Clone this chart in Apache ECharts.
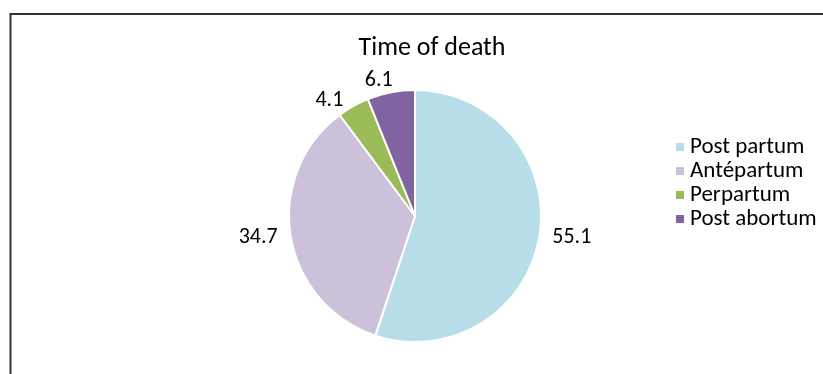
<!DOCTYPE html>
<html>
<head>
<meta charset="utf-8">
<script src="https://cdn.jsdelivr.net/npm/echarts@6/dist/echarts.min.js"></script>
<style>
html,body{margin:0;padding:0;background:#fff;}
#c{width:823px;height:374px;}
</style>
</head>
<body>
<div id="c"></div>
<script>
var titleText = "Time of death";
var categories = ["Post partum", "Antépartum", "Perpartum", "Post abortum"];
var values = [55.1, 34.7, 4.1, 6.1];
var colors = ["#B7DDE8", "#CCC1DA", "#9BBB59", "#8064A2"];

var font = "Carlito, 'Open Sans', 'Noto Sans', sans-serif";
var chart = echarts.init(document.getElementById('c'));
chart.setOption({
  animation: false,
  color: colors,
  title: {
    text: titleText,
    left: 432, top: 35, textAlign: 'center', padding: 0,
    textStyle: {fontFamily: font, fontSize: 26, fontWeight: 'normal', color: '#000'}
  },
  legend: {
    orient: 'vertical',
    left: 674, top: 135, padding: 0,
    icon: 'rect', itemWidth: 10, itemHeight: 10, itemGap: 0,
    textStyle: {fontFamily: font, fontSize: 23, color: '#000', lineHeight: 24},
    data: categories
  },
  graphic: [{
    type: 'rect', silent: true,
    shape: {x: 10.5, y: 14, width: 1000, height: 600},
    style: {fill: 'none', stroke: '#333', lineWidth: 2}
  }],
  series: [{
    type: 'pie',
    center: [415, 216],
    radius: [0, 126],
    startAngle: 90,
    clockwise: true,
    avoidLabelOverlap: false,
    itemStyle: {borderColor: '#fff', borderWidth: 2},
    label: {
      show: true, position: 'outside',
      formatter: function(p){ return p.value.toFixed(1); },
      fontFamily: font, fontSize: 22, color: '#000'
    },
    labelLine: {show: false, length: 6, length2: 2},
    emphasis: {disabled: true},
    data: categories.map(function(n, i){
      var d = {name: n, value: values[i]};
      if (i === 3) {
        d.labelLine = {show: false, length: 12, length2: -4};
        d.label = {distanceToLabelLine: 0};
      }
      return d;
    })
  }]
});
</script>
</body>
</html>
